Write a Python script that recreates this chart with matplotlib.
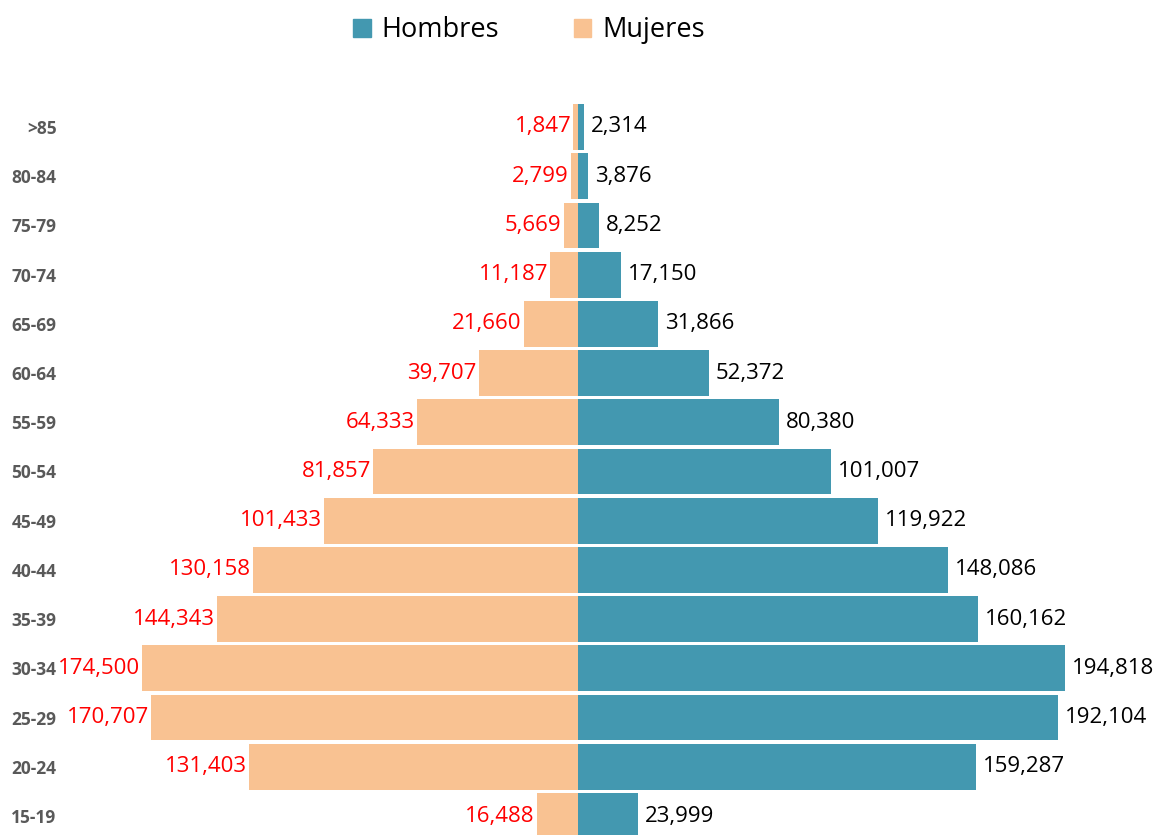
import matplotlib.pyplot as plt
from matplotlib.patches import Patch

grupos = [">85", "80-84", "75-79", "70-74", "65-69", "60-64", "55-59", "50-54",
          "45-49", "40-44", "35-39", "30-34", "25-29", "20-24", "15-19"]
hombres = [2314, 3876, 8252, 17150, 31866, 52372, 80380, 101007,
           119922, 148086, 160162, 194818, 192104, 159287, 23999]
mujeres = [1847, 2799, 5669, 11187, 21660, 39707, 64333, 81857,
           101433, 130158, 144343, 174500, 170707, 131403, 16488]

# de abajo hacia arriba
grupos = grupos[::-1]
hombres = hombres[::-1]
mujeres = mujeres[::-1]

c_h = "#4398B0"
c_m = "#F9C292"

fig = plt.figure(figsize=(11.69, 8.35), dpi=100)
ax = fig.add_axes([62 / 1169, 0, 1 - 62 / 1169, 740 / 835])

y = list(range(len(grupos)))
ax.barh(y, hombres, height=0.93, color=c_h)
ax.barh(y, [-m for m in mujeres], height=0.93, color=c_m)

for i in y:
    ax.annotate(f"{hombres[i]:,}", (hombres[i], i), xytext=(5, 0),
                textcoords="offset points", ha="left", va="center",
                fontsize=16, family="Open Sans", color="black")
    ax.annotate(f"{mujeres[i]:,}", (-mujeres[i], i), xytext=(-1.5, 0),
                textcoords="offset points", ha="right", va="center",
                fontsize=16, family="Open Sans", color="red")

ax.set_xlim(-206400, 236400)
ax.set_ylim(-0.386, 14.65)
ax.set_yticks(y)
ax.set_yticklabels(grupos, fontsize=12.5, family="Open Sans",
                   fontweight="bold", color="#595959")
ax.set_xticks([])
ax.tick_params(axis="y", length=0, pad=4)
for s in ax.spines.values():
    s.set_visible(False)

handles = [Patch(color=c_h, label="Hombres"), Patch(color=c_m, label="Mujeres")]
fig.legend(handles=handles, loc="center", bbox_to_anchor=(0.4525, 0.964),
           ncol=2, frameon=False, prop={"family": "Open Sans", "size": 19.5},
           handlelength=0.65, handleheight=0.65, handletextpad=0.4,
           columnspacing=2.75)

fig.savefig("out.png", dpi=100)
